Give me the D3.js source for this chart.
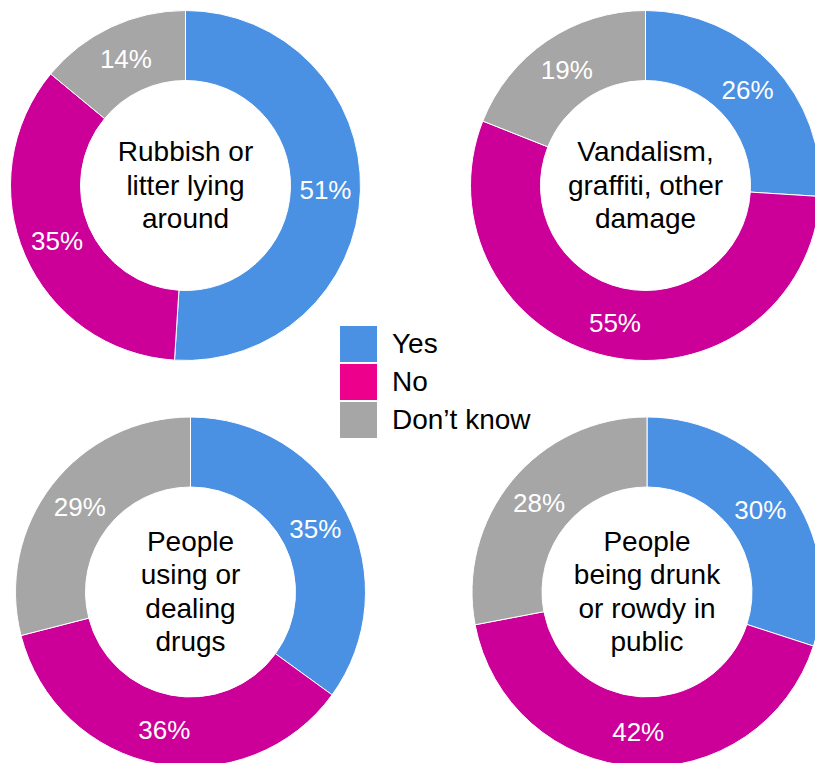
<!DOCTYPE html>
<html>
<head>
<meta charset="utf-8">
<script src="https://cdn.jsdelivr.net/npm/d3@7"></script>
<style>
  html, body { margin: 0; padding: 0; background: #ffffff; }
  svg { display: block; }
</style>
</head>
<body>
<svg id="chart" width="815" height="763"></svg>
<script>
// Survey answers per problem type
const categories = ["Yes", "No", "Don’t know"];
const topics = [
  ["Rubbish or", "litter lying", "around"],
  ["Vandalism,", "graffiti, other", "damage"],
  ["People", "using or", "dealing", "drugs"],
  ["People", "being drunk", "or rowdy in", "public"]
];
const yesValues = [51, 26, 35, 30];
const noValues = [35, 55, 36, 42];
const dontKnowValues = [14, 19, 29, 28];

const sliceColors = ["#4A90E3", "#CC0099", "#A6A6A6"];
const legendColors = ["#4A90E3", "#EC008C", "#A6A6A6"];

const svg = d3.select("#chart");
const font = "'Liberation Sans', Arial, sans-serif";

// Donut layout: 2x2 grid
const outerR = 175, innerR = 105, labelR = 140;
const centers = [
  [185.5, 185.5],
  [645.5, 185.5],
  [190.5, 592],
  [647, 592]
];

const color = d3.scaleOrdinal().domain(categories).range(sliceColors);
const pie = d3.pie().sort(null).value(d => d.value);
const arc = d3.arc().innerRadius(innerR).outerRadius(outerR);
const labelArc = d3.arc().innerRadius(labelR).outerRadius(labelR);

topics.forEach((lines, i) => {
  const rows = categories.map((c, k) => ({
    cat: c,
    value: [yesValues, noValues, dontKnowValues][k][i]
  }));
  const g = svg.append("g").attr("transform", `translate(${centers[i][0]},${centers[i][1]})`);

  const arcs = pie(rows);
  g.selectAll("path")
    .data(arcs)
    .join("path")
    .attr("d", arc)
    .attr("fill", d => color(d.data.cat))
    .attr("stroke", "#ffffff")
    .attr("stroke-width", 1);

  g.selectAll("text.pct")
    .data(arcs)
    .join("text")
    .attr("class", "pct")
    .attr("transform", d => `translate(${labelArc.centroid(d)})`)
    .attr("text-anchor", "middle")
    .attr("dy", "0.36em")
    .attr("fill", "#ffffff")
    .attr("font-family", font)
    .attr("font-size", 26)
    .text(d => d.data.value + "%");

  const lh = 33.5;
  const t = g.append("text")
    .attr("text-anchor", "middle")
    .attr("font-family", font)
    .attr("font-size", 28)
    .attr("fill", "#000000");
  lines.forEach((ln, j) => {
    t.append("tspan")
      .attr("x", 0)
      .attr("y", (j - (lines.length - 1) / 2) * lh + 9)
      .text(ln);
  });
});

// Legend
const legend = svg.append("g").attr("transform", "translate(340,326)");
const item = legend.selectAll("g")
  .data(categories)
  .join("g")
  .attr("transform", (d, i) => `translate(0,${i * 38})`);
item.append("rect")
  .attr("width", 37)
  .attr("height", 36)
  .attr("fill", (d, i) => legendColors[i]);
item.append("text")
  .attr("x", 52)
  .attr("y", 27)
  .attr("font-family", font)
  .attr("font-size", 28)
  .attr("fill", "#000000")
  .text(d => d);
</script>
</body>
</html>
